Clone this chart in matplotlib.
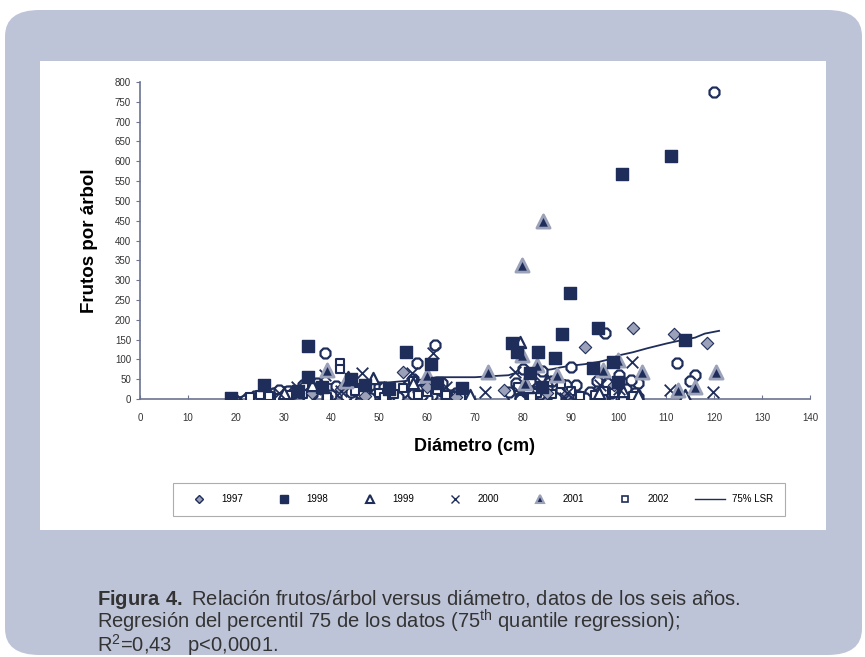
import matplotlib.pyplot as plt
from matplotlib.patches import FancyBboxPatch, Rectangle
from matplotlib.lines import Line2D

plt.rcParams['font.family'] = ['Liberation Sans', 'DejaVu Sans']
plt.rcParams['mathtext.fontset'] = 'custom'
plt.rcParams['mathtext.rm'] = 'Liberation Sans'
plt.rcParams['mathtext.bf'] = 'Liberation Sans:bold'

NAVY = '#1f2d5a'
GRAY = '#9aa1b8'
PANEL = '#bec4d8'

# datos (diametro cm, frutos por arbol)
d1997 = [55, 76, 93, 103, 111.5, 118.5, 36, 47, 66, 89, 42, 60, 85, 99]
f1997 = [68, 23, 131, 180, 165, 141, 15, 8, 5, 10, 25, 30, 15, 35]

d1998 = [19, 26, 35, 35, 44, 55.6, 60.8, 67.3, 77.7, 78.8, 81.5, 83.2, 86.7, 88.2,
         89.8, 94.7, 95.7, 98.8, 99.9, 100.7, 110.9, 113.9, 38, 52, 62, 84, 33, 47]
f1998 = [2, 35, 134, 56, 50, 118, 88, 28, 141, 118, 66, 118, 103, 164,
         268, 78, 179, 93, 43, 568, 613, 149, 30, 25, 40, 30, 20, 35]

d1999 = [43.5, 48.7, 79.4, 113.9, 85, 101, 57, 30, 69, 96, 36, 81, 104]
f1999 = [56, 53, 144, 10, 48, 20, 40, 15, 10, 15, 35, 30, 10]

d2000 = [20.9, 32.8, 38.7, 46.4, 56.8, 61.2, 72, 78.4, 79.4, 88.8, 89.2, 96.1,
         102.8, 110.7, 119.7, 84, 64, 42, 29, 52, 100]
f2000 = [3, 30, 60, 65, 65, 115, 18, 68, 15, 3, 15, 35, 93, 23, 18, 40, 30, 20, 15, 30, 25]

d2001 = [39, 72.7, 79.8, 79.8, 84.2, 87.1, 96.7, 99.9, 104.9, 112.4, 116, 120.3, 80.5, 60, 43, 83]
f2001 = [73, 68, 338, 111, 449, 60, 73, 98, 68, 23, 30, 68, 40, 60, 45, 85]

d2002 = [23, 27, 31, 34, 41.8, 41.8, 45, 50, 53, 58, 62, 66, 68.5, 80, 83, 86, 90, 95, 99, 103,
         25, 29, 36, 39, 47, 51, 55, 60, 64, 79, 82, 88, 92, 97, 101, 57, 67]
f2002 = [5, 8, 10, 12, 91, 75, 20, 15, 12, 10, 22, 8, 5, 20, 15, 12, 20, 10, 15, 8,
         10, 3, 25, 5, 30, 5, 28, 18, 10, 30, 5, 38, 8, 20, 5, 45, 4]

# marcas huecas sin leyenda
d_oct = [24, 28, 31, 33, 36, 38, 40, 42, 44, 47, 49, 51, 53, 55, 57, 59, 61, 63, 64, 66,
         78, 79, 80, 81, 82, 83, 84, 86, 88, 90, 91, 95, 96, 97, 98, 99, 100, 101, 102, 103, 104,
         31, 37, 38.7, 57.9, 61.6, 63, 57, 80, 84, 90, 97.2, 100, 104, 112.2, 116, 115, 120,
         26, 29, 32, 35, 37, 39, 41, 43, 45, 46, 48, 50, 52, 54, 56, 58, 60, 62, 65, 67,
         77, 78.5, 79.5, 80.5, 81.5, 82.5, 83.5, 85, 87, 89, 91.5, 94, 95.5, 96.5, 97.5,
         98.5, 99.5, 100.5, 101.5, 102.5, 103.5, 34, 44, 51, 59, 86, 93]
f_oct = [8, 15, 5, 20, 12, 25, 10, 18, 5, 22, 12, 28, 8, 18, 12, 25, 10, 20, 5, 15,
         5, 25, 12, 35, 8, 20, 30, 10, 22, 15, 35, 8, 25, 12, 30, 5, 18, 40, 10, 25, 5,
         20, 40, 116, 91, 136, 40, 50, 75, 70, 80, 167, 60, 40, 91, 60, 45, 775,
         3, 22, 14, 6, 28, 3, 32, 8, 24, 14, 3, 30, 20, 4, 35, 22, 3, 28, 10, 22,
         18, 40, 3, 20, 45, 3, 12, 28, 3, 35, 8, 18, 45, 3, 40,
         15, 28, 5, 25, 48, 14, 35, 18, 30, 10, 45, 3]

lsr_x = [19, 21, 23, 25, 27, 30, 33, 35, 40, 45, 50, 52, 55, 60, 62, 70, 74, 77, 78, 80,
         83, 86, 88, 90, 93, 96, 98, 100, 103, 106, 110, 113, 116, 118, 121]
lsr_y = [0, 5, 12, 18, 22, 30, 33, 36, 38, 38, 40, 42, 45, 50, 55, 55, 58, 60, 64, 66,
         70, 75, 80, 84, 88, 94, 100, 110, 118, 128, 140, 148, 155, 165, 172]

caption = ('$\\mathbf{Figura\\ 4.}$ Relación frutos/árbol versus diámetro, datos de los seis años.\n'
           'Regresión del percentil 75 de los datos (75$^{\\rm th}$ quantile regression);\n'
           'R$^{2}$=0,43   p<0,0001.')

fig = plt.figure(figsize=(8.65, 6.57), dpi=100)
W, H = 865, 657

# panel azul y recuadro blanco
fig.patches.append(FancyBboxPatch((5 / W, 1 - 655 / H), 857 / W, 645 / H,
                                  boxstyle='round,pad=0,rounding_size=0.04',
                                  transform=fig.transFigure, facecolor=PANEL,
                                  edgecolor='none', zorder=-2))
fig.patches.append(Rectangle((40 / W, 1 - 530 / H), 786 / W, 469 / H,
                             transform=fig.transFigure, facecolor='white',
                             edgecolor='none', zorder=-1))

ax = fig.add_axes([140 / W, 1 - 399 / H, 670 / W, 317 / H])
ax.patch.set_alpha(0)

ax.plot(lsr_x, lsr_y, color=NAVY, lw=1.3, zorder=2)
ax.scatter(d_oct, f_oct, marker='8', s=60, facecolor='white', edgecolor=NAVY, lw=1.6, zorder=3)
ax.scatter(d2002, f2002, marker='s', s=40, facecolor='white', edgecolor=NAVY, lw=1.5, zorder=3)
ax.scatter(d1997, f1997, marker='D', s=40, facecolor=GRAY, edgecolor=NAVY, lw=0.8, zorder=4)
ax.scatter(d1999, f1999, marker='^', s=65, facecolor='white', edgecolor=NAVY, lw=1.6, zorder=4)
ax.scatter(d2000, f2000, marker='x', s=70, color=NAVY, lw=1.3, zorder=4)
ax.scatter(d2001, f2001, marker='^', s=90, facecolor=NAVY, edgecolor=GRAY, lw=2, zorder=4)
ax.scatter(d1998, f1998, marker='s', s=75, facecolor=NAVY, edgecolor=NAVY, zorder=5)

ax.set_xlim(0, 140)
ax.set_ylim(0, 800)
ax.set_xticks(range(0, 141, 10))
ax.set_yticks(range(0, 801, 50))
for s in ['top', 'right']:
    ax.spines[s].set_visible(False)
for s in ['left', 'bottom']:
    ax.spines[s].set_color('#6b7390')
    ax.spines[s].set_linewidth(1.2)
ax.tick_params(axis='both', labelsize=7, labelcolor='#333333', color='#6b7390', length=3)
ax.tick_params(axis='x', direction='in', pad=10)
ax.set_xlabel('Diámetro (cm)', fontsize=13, fontweight='bold', labelpad=11)
ax.set_ylabel('Frutos por árbol', fontsize=13.5, fontweight='bold', labelpad=12)

handles = [
    Line2D([], [], ls='none', marker='D', ms=4, mfc=GRAY, mec=NAVY),
    Line2D([], [], ls='none', marker='s', ms=6, mfc=NAVY, mec=NAVY),
    Line2D([], [], ls='none', marker='^', ms=6, mfc='white', mec=NAVY, mew=1.5),
    Line2D([], [], ls='none', marker='x', ms=6, color=NAVY),
    Line2D([], [], ls='none', marker='^', ms=6, mfc=NAVY, mec=GRAY, mew=1.5),
    Line2D([], [], ls='none', marker='s', ms=5, mfc='white', mec=NAVY, mew=1.2),
    Line2D([], [], color=NAVY, lw=1),
]
labels = ['1997', '1998', '1999', '2000', '2001', '2002', '75% LSR']
leg = fig.legend(handles, labels, ncol=7, mode='expand', fontsize=7,
                 bbox_to_anchor=(168 / W, 1 - 521 / H, 622 / W, 43 / H), loc='center',
                 frameon=True, fancybox=False, edgecolor='#999999', handlelength=3,
                 borderpad=1.2)
leg.get_frame().set_linewidth(0.8)

fig.text(97 / W, 1 - 588 / H, caption, fontsize=14.5, color='#333333', va='top',
         linespacing=0.85)

fig.savefig('out.png', dpi=100, facecolor='white')
